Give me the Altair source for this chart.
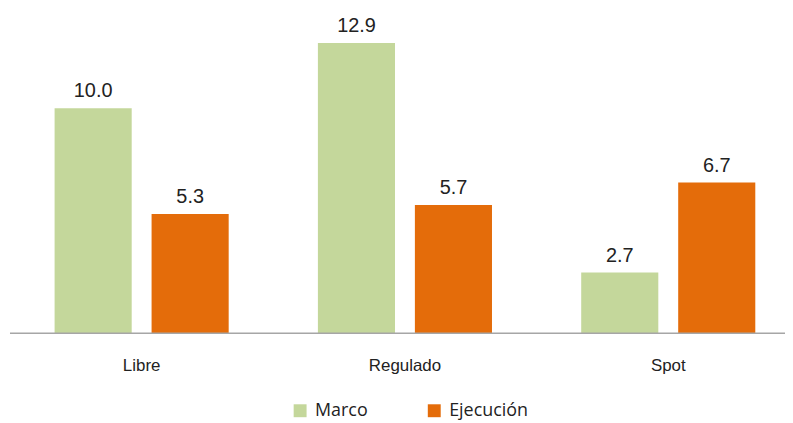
import altair as alt
import pandas as pd

categories = ["Libre", "Regulado", "Spot"]
series = ["Marco", "Ejecución"]
marco = [10.0, 12.9, 2.7]
ejecucion = [5.3, 5.7, 6.7]
colors = ["#C4D79B", "#E46C0A"]

rows = []
for i, c in enumerate(categories):
    rows.append({"cat": c, "serie": "Marco", "valor": marco[i]})
    rows.append({"cat": c, "serie": "Ejecución", "valor": ejecucion[i]})
df = pd.DataFrame(rows)

ydomain = [0, 14.4]

x = alt.X("cat:N", sort=categories, title=None,
          scale=alt.Scale(range=[0, 795], paddingInner=0, paddingOuter=0),
          axis=alt.Axis(domain=False, ticks=False, labelAngle=0, labelFont="Liberation Sans",
                        labelFontSize=17, labelColor="#222222", labelPadding=24))
xo = alt.XOffset("serie:N", sort=series, scale=alt.Scale(paddingInner=0.205, paddingOuter=0.46))
y = alt.Y("valor:Q", scale=alt.Scale(domain=ydomain, nice=False), axis=None)

bars = alt.Chart(df).mark_bar().encode(
    x=x, xOffset=xo, y=y,
    color=alt.Color("serie:N", sort=series,
                    scale=alt.Scale(domain=series, range=colors),
                    legend=alt.Legend(title=None, orient="none", legendX=283, legendY=395,
                                      direction="horizontal", symbolType="square", symbolSize=169,
                                      symbolStrokeWidth=0, labelFont="Open Sans", labelFontSize=18,
                                      labelColor="#222222", labelOffset=6, columnPadding=58,
                                      padding=0))
)
text = alt.Chart(df).mark_text(baseline="alphabetic", dy=-11, font="Liberation Sans",
                               fontSize=20, color="#222222").encode(
    x=x, xOffset=xo, y=y, text=alt.Text("valor:Q", format=".1f"))

rule = alt.Chart(pd.DataFrame({"v": [0]})).mark_rule(color="#A6A6A6", strokeWidth=1.5).encode(
    x=alt.value(0), x2=alt.value(783),
    y=alt.Y("v:Q", scale=alt.Scale(domain=ydomain, nice=False), axis=None))

chart = alt.layer(bars, text, rule).properties(
    width=780, height=326,
    autosize=alt.AutoSizeParams(type="none"),
    padding={"left": 2, "top": 0, "right": 0, "bottom": 89},
).configure_view(stroke=None)

chart.save("out.html", embed_options={"renderer": "svg", "actions": False})
